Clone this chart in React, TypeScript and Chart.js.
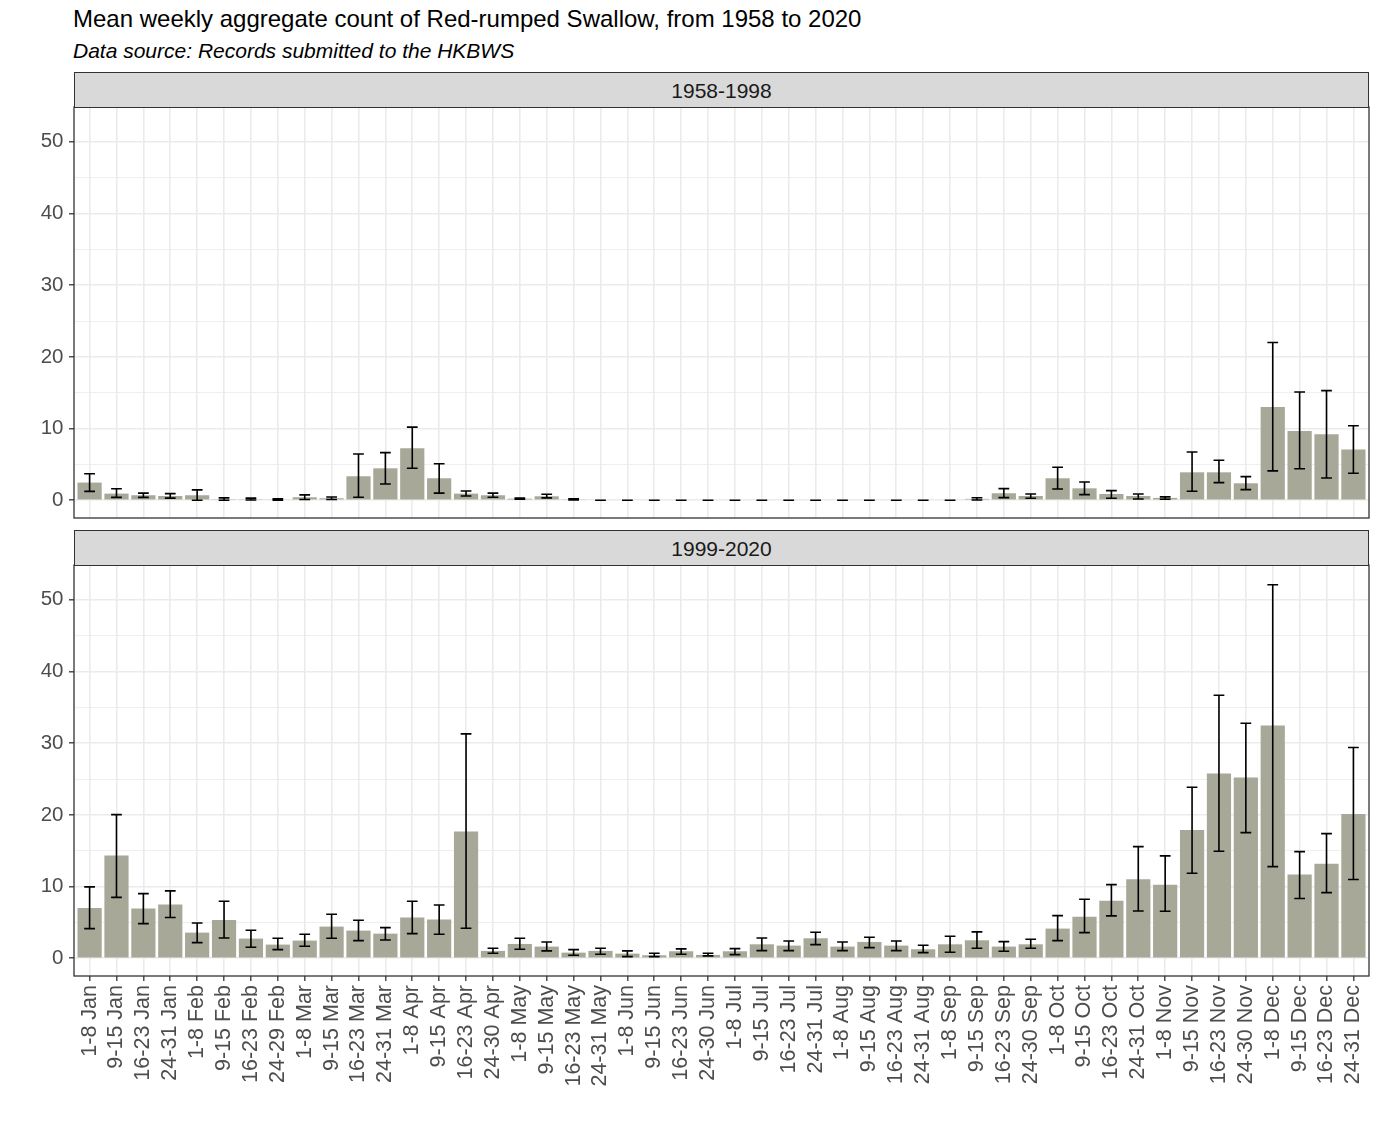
import React, { useEffect, useRef } from 'react';
import { Chart, registerables } from 'chart.js';

Chart.register(...registerables);

const FONT = '"Liberation Sans", Arial, Helvetica, sans-serif';

const WEEK_LABELS = [
  '1-8 Jan', '9-15 Jan', '16-23 Jan', '24-31 Jan',
  '1-8 Feb', '9-15 Feb', '16-23 Feb', '24-29 Feb',
  '1-8 Mar', '9-15 Mar', '16-23 Mar', '24-31 Mar',
  '1-8 Apr', '9-15 Apr', '16-23 Apr', '24-30 Apr',
  '1-8 May', '9-15 May', '16-23 May', '24-31 May',
  '1-8 Jun', '9-15 Jun', '16-23 Jun', '24-30 Jun',
  '1-8 Jul', '9-15 Jul', '16-23 Jul', '24-31 Jul',
  '1-8 Aug', '9-15 Aug', '16-23 Aug', '24-31 Aug',
  '1-8 Sep', '9-15 Sep', '16-23 Sep', '24-30 Sep',
  '1-8 Oct', '9-15 Oct', '16-23 Oct', '24-31 Oct',
  '1-8 Nov', '9-15 Nov', '16-23 Nov', '24-30 Nov',
  '1-8 Dec', '9-15 Dec', '16-23 Dec', '24-31 Dec',
];

const PERIODS = ['1958-1998', '1999-2020'];

// 1958-1998
const MEAN_1958 = [
  2.47, 0.93, 0.7, 0.6, 0.7, 0.15, 0.15, 0.1, 0.42, 0.28, 3.35, 4.46,
  7.25, 3.07, 0.93, 0.7, 0.23, 0.56, 0.14, 0, 0, 0, 0, 0,
  0, 0, 0, 0, 0, 0, 0, 0, 0, 0.2, 0.98, 0.6,
  3.07, 1.67, 0.88, 0.6, 0.33, 3.9, 3.9, 2.37, 13.0, 9.67, 9.2, 7.1,
];
const LOW_1958 = [
  1.25, 0.4, 0.4, 0.3, 0.0, 0.0, 0.05, 0.0, 0.1, 0.1, 0.42, 2.27,
  4.46, 1.0, 0.6, 0.42, 0.15, 0.33, 0.05, 0, 0, 0, 0, 0,
  0, 0, 0, 0, 0, 0, 0, 0, 0, 0.05, 0.37, 0.28,
  1.58, 0.79, 0.28, 0.19, 0.14, 1.26, 2.46, 1.49, 4.1, 4.4, 3.1, 3.77,
];
const HIGH_1958 = [
  3.7, 1.6, 1.0, 0.93, 1.45, 0.33, 0.3, 0.2, 0.75, 0.45, 6.45, 6.65,
  10.2, 5.1, 1.3, 1.0, 0.3, 0.84, 0.2, 0, 0, 0, 0, 0,
  0, 0, 0, 0, 0, 0, 0, 0, 0, 0.35, 1.63, 0.88,
  4.6, 2.56, 1.35, 0.88, 0.47, 6.74, 5.58, 3.3, 22.0, 15.1, 15.3, 10.4,
];

// 1999-2020
const MEAN_1999 = [
  7.03, 14.32, 6.93, 7.49, 3.58, 5.35, 2.75, 1.91, 2.47, 4.42, 3.86, 3.44,
  5.68, 5.4, 17.67, 1.03, 2.0, 1.63, 0.79, 1.03, 0.65, 0.42, 0.98, 0.47,
  0.98, 1.95, 1.77, 2.79, 1.63, 2.28, 1.77, 1.26, 1.95, 2.51, 1.63, 1.95,
  4.14, 5.81, 8.04, 11.02, 10.27, 17.9, 25.76, 25.2, 32.45, 11.67, 13.2, 20.14,
];
const LOW_1999 = [
  4.14, 8.5, 4.84, 5.68, 2.19, 2.84, 1.54, 1.21, 1.67, 2.79, 2.47, 2.56,
  3.44, 3.35, 4.19, 0.7, 1.26, 1.03, 0.42, 0.56, 0.23, 0.23, 0.56, 0.33,
  0.51, 1.07, 1.07, 1.91, 1.07, 1.49, 1.07, 0.79, 0.84, 1.4, 0.98, 1.4,
  2.47, 3.58, 5.91, 6.6, 6.55, 11.86, 14.92, 17.53, 12.79, 8.33, 9.16, 10.98,
];
const HIGH_1999 = [
  9.96, 20.04, 9.02, 9.4, 4.93, 7.95, 3.91, 2.79, 3.35, 6.14, 5.3, 4.28,
  7.95, 7.44, 31.3, 1.4, 2.79, 2.28, 1.21, 1.4, 1.03, 0.7, 1.31, 0.7,
  1.35, 2.84, 2.42, 3.63, 2.28, 2.93, 2.42, 1.81, 3.07, 3.68, 2.33, 2.65,
  5.95, 8.23, 10.27, 15.58, 14.28, 23.85, 36.68, 32.78, 52.1, 14.88, 17.39, 29.39,
];

const Y_MIN = -2.47;
const Y_MAX = 54.85;
const X_MIN = -0.58;
const X_MAX = 47.58;

const BAR_COLOR = '#A7A898';
const GRID = '#EBEBEB';
const AXIS = '#333333';
const TICK_TEXT = '#4D4D4D';

type PanelProps = {
  means: number[];
  lows: number[];
  highs: number[];
  showLabels: boolean;
  top: number;
  height: number;
  axisHeight: number;
  padBottom: number;
};

function Panel({ means, lows, highs, showLabels, top, height, axisHeight, padBottom }: PanelProps) {
  const ref = useRef<HTMLCanvasElement>(null);

  useEffect(() => {
    const errorBars = {
      id: 'errorBarsLocal',
      afterDatasetsDraw(chart: any) {
        const { ctx } = chart;
        const x = chart.scales.x;
        const y = chart.scales.y;
        const half = (x.getPixelForValue(1) - x.getPixelForValue(0)) * 0.2;
        ctx.save();
        ctx.strokeStyle = '#000000';
        ctx.lineWidth = 1.6;
        for (let i = 0; i < lows.length; i++) {
          const px = x.getPixelForValue(i);
          const yl = y.getPixelForValue(lows[i]);
          const yh = y.getPixelForValue(highs[i]);
          ctx.beginPath();
          ctx.moveTo(px, yl);
          ctx.lineTo(px, yh);
          ctx.moveTo(px - half, yl);
          ctx.lineTo(px + half, yl);
          ctx.moveTo(px - half, yh);
          ctx.lineTo(px + half, yh);
          ctx.stroke();
        }
        ctx.restore();
      },
    };
    const panelBorder = {
      id: 'panelBorderLocal',
      afterDraw(chart: any) {
        const { ctx, chartArea: a } = chart;
        ctx.save();
        ctx.strokeStyle = AXIS;
        ctx.lineWidth = 1.3;
        ctx.strokeRect(a.left, a.top, a.right - a.left, a.bottom - a.top);
        ctx.restore();
      },
    };

    const chart = new Chart(ref.current as HTMLCanvasElement, {
      type: 'bar',
      data: {
        datasets: [
          {
            data: means.map((v, i) => ({ x: i, y: v })),
            backgroundColor: BAR_COLOR,
            borderWidth: 0,
            barPercentage: 0.9,
            categoryPercentage: 1,
          } as any,
        ],
      },
      options: {
        responsive: false,
        animation: false,
        layout: { padding: { left: 0, right: 11, top: 20, bottom: padBottom } },
        plugins: {
          legend: { display: false },
          tooltip: { enabled: false },
        },
        scales: {
          x: {
            type: 'linear',
            min: X_MIN,
            max: X_MAX,
            offset: false,
            grid: {
              offset: false,
              color: GRID,
              lineWidth: 1.6,
              drawTicks: showLabels,
              tickLength: 5,
              tickColor: AXIS,
              tickWidth: 1.3,
            },
            border: { display: false },
            ticks: {
              display: showLabels,
              stepSize: 1,
              autoSkip: false,
              includeBounds: false,
              minRotation: 90,
              maxRotation: 90,
              padding: 4,
              color: TICK_TEXT,
              font: { family: FONT, size: 21.5 },
              callback: (v: any) => WEEK_LABELS[Math.round(Number(v))] ?? '',
            },
            afterFit: (s: any) => {
              s.height = axisHeight;
              s.paddingLeft = 0;
              s.paddingRight = 0;
            },
          } as any,
          y: {
            type: 'linear',
            min: Y_MIN,
            max: Y_MAX,
            grid: {
              color: GRID,
              lineWidth: (c: any) => (c.tick && Math.round(c.tick.value) % 10 === 0 ? 1.6 : 0.8),
              tickColor: (c: any) => (c.tick && Math.round(c.tick.value) % 10 === 0 ? AXIS : 'rgba(0,0,0,0)'),
              tickWidth: 1.3,
              tickLength: 5,
            },
            border: { display: false },
            ticks: {
              stepSize: 5,
              includeBounds: false,
              padding: 5.5,
              color: TICK_TEXT,
              font: { family: FONT, size: 20.5 },
              callback: (v: any) => (Math.round(Number(v)) % 10 === 0 ? String(Math.round(Number(v))) : ''),
            },
            afterFit: (s: any) => {
              s.width = 74;
              s.paddingTop = 0;
              s.paddingBottom = 0;
            },
          } as any,
        },
      },
      plugins: [errorBars, panelBorder],
    });
    return () => chart.destroy();
  }, []);

  return (
    <canvas
      ref={ref}
      width={1380}
      height={height}
      style={{ position: 'absolute', left: 0, top, width: 1380, height }}
    />
  );
}

function Strip({ label, top, height }: { label: string; top: number; height: number }) {
  return (
    <div
      style={{
        position: 'absolute',
        left: 74,
        top,
        width: 1295,
        height,
        boxSizing: 'border-box',
        border: '1px solid #333333',
        background: '#D9D9D9',
        color: '#1A1A1A',
        fontSize: 21,
        fontFamily: FONT,
        display: 'flex',
        alignItems: 'center',
        justifyContent: 'center',
        paddingTop: 2,
      }}
    >
      {label}
    </div>
  );
}

export default function App() {
  return (
    <div
      style={{
        position: 'absolute',
        left: 0,
        top: 0,
        width: 1380,
        height: 1129,
        background: '#FFFFFF',
        fontFamily: FONT,
        overflow: 'hidden',
      }}
    >
      <div
        style={{
          position: 'absolute',
          left: 73,
          top: 7,
          fontSize: 24,
          lineHeight: '24px',
          color: '#000000',
          whiteSpace: 'nowrap',
        }}
      >
        Mean weekly aggregate count of Red-rumped Swallow, from 1958 to 2020
      </div>
      <div
        style={{
          position: 'absolute',
          left: 73,
          top: 40,
          fontSize: 21,
          lineHeight: '21px',
          fontStyle: 'italic',
          color: '#000000',
          whiteSpace: 'nowrap',
        }}
      >
        Data source: Records submitted to the HKBWS
      </div>
      <Panel means={MEAN_1958} lows={LOW_1958} highs={HIGH_1958} showLabels={false} top={87} height={451} axisHeight={0} padBottom={20} />
      <Panel means={MEAN_1999} lows={LOW_1999} highs={HIGH_1999} showLabels={true} top={545} height={584} axisHeight={153} padBottom={0} />
      <Strip label={PERIODS[0]} top={72} height={36} />
      <Strip label={PERIODS[1]} top={530} height={36} />
    </div>
  );
}
